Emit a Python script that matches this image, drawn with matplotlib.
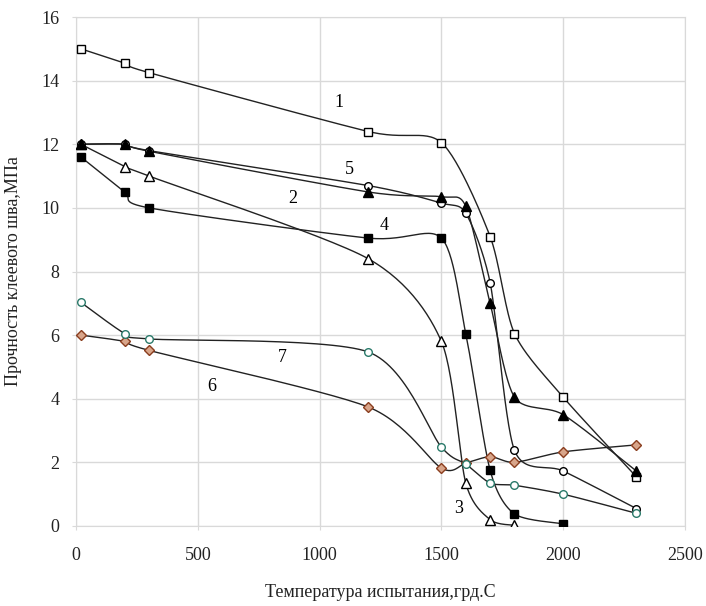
import numpy as np
import matplotlib
matplotlib.use("Agg")
import matplotlib.pyplot as plt

plt.rcParams['font.family'] = ['Liberation Serif', 'DejaVu Serif']

# temperatures (grd C) and strength (MPa) for each curve
t1 = [20, 200, 300, 1200, 1500, 1700, 1800, 2000, 2300]
s1 = [15.0, 14.55, 14.25, 12.4, 12.05, 9.1, 6.05, 4.05, 1.55]

t2 = [20, 200, 300, 1200, 1500, 1600, 1700, 1800, 2000, 2300]
s2 = [12.0, 12.0, 11.78, 10.5, 10.35, 10.05, 7.0, 4.05, 3.5, 1.73]

t3 = [20, 200, 300, 1200, 1500, 1600, 1700, 1800]
s3 = [12.0, 11.3, 11.0, 8.4, 5.8, 1.35, 0.2, 0.02]

t4 = [20, 200, 300, 1200, 1500, 1600, 1700, 1800, 2000]
s4 = [11.6, 10.5, 10.0, 9.05, 9.05, 6.05, 1.75, 0.38, 0.07]

t5 = [20, 200, 300, 1200, 1500, 1600, 1700, 1800, 2000, 2300]
s5 = [12.0, 12.0, 11.8, 10.7, 10.15, 9.83, 7.65, 2.38, 1.73, 0.55]

t6 = [20, 200, 300, 1200, 1500, 1600, 1700, 1800, 2000, 2300]
s6 = [6.0, 5.8, 5.52, 3.74, 1.82, 1.98, 2.18, 2.0, 2.33, 2.55]

t7 = [20, 200, 300, 1200, 1500, 1600, 1700, 1800, 2000, 2300]
s7 = [7.03, 6.05, 5.88, 5.47, 2.48, 1.95, 1.35, 1.28, 1.0, 0.4]

curve_labels = ['1', '2', '3', '4', '5', '6', '7']
label_pos = [(1080, 13.3), (888, 10.3), (1570, 0.55), (1264, 9.45),
             (1121, 11.2), (556, 4.4), (847, 5.3)]

XMAX, YMAX = 2500, 16
AX_W, AX_H = 609, 509  # axes size in pixels


def smooth(xs, ys, n=30, k=0.13):
    # excel-like smoothed line: bezier through points, done in pixel space
    px = np.array(xs, float) * AX_W / XMAX
    py = np.array(ys, float) * AX_H / YMAX
    P = np.column_stack([px, py])
    out = [P[0]]
    for i in range(len(P) - 1):
        p0 = P[i - 1] if i > 0 else P[i]
        p1, p2 = P[i], P[i + 1]
        p3 = P[i + 2] if i + 2 < len(P) else P[i + 1]
        c1 = p1 + (p2 - p0) * k
        c2 = p2 - (p3 - p1) * k
        u = np.linspace(0, 1, n)[1:, None]
        seg = ((1 - u) ** 3) * p1 + 3 * ((1 - u) ** 2) * u * c1 + 3 * (1 - u) * u ** 2 * c2 + u ** 3 * p2
        out.extend(seg)
    out = np.array(out)
    return out[:, 0] * XMAX / AX_W, out[:, 1] * YMAX / AX_H


fig = plt.figure(figsize=(7.06, 6.06), dpi=100)
ax = fig.add_axes([76 / 706, 80 / 606, AX_W / 706, AX_H / 606])

# drawing order: open markers first so the filled triangles sit on top
series = [
    (t5, s5, dict(marker='o', mfc='white', mec='black', ms=5.5)),
    (t3, s3, dict(marker='^', mfc='white', mec='black', ms=6.5)),
    (t1, s1, dict(marker='s', mfc='white', mec='black', ms=6)),
    (t4, s4, dict(marker='s', mfc='black', mec='black', ms=6)),
    (t6, s6, dict(marker='D', mfc='#d8a58a', mec='#8a3d1e', ms=5)),
    (t7, s7, dict(marker='o', mfc='white', mec='#2a7a6a', ms=5.5)),
    (t2, s2, dict(marker='^', mfc='black', mec='black', ms=6.5)),
]

for t, s, st in series:
    sx, sy = smooth(t, s)
    ax.plot(sx, sy, color='#222222', lw=1.0, zorder=2)
    ax.plot(t, s, ls='none', mew=1.0, zorder=3, **st)

for lab, (lx, ly) in zip(curve_labels, label_pos):
    ax.text(lx, ly, lab, fontsize=13, ha='center', va='center')

ax.set_xlim(0, XMAX)
ax.set_ylim(0, YMAX)
ax.set_xticks(np.arange(0, 2501, 500))
ax.set_yticks(np.arange(0, 17, 2))
ax.grid(True, color='#d9d9d9', lw=1.0)
ax.set_axisbelow(True)
for sp in ax.spines.values():
    sp.set_color('#d9d9d9')
ax.tick_params(colors='#d9d9d9', labelcolor='#222222', labelsize=13, length=3)
ax.tick_params(axis='y', pad=9)
ax.tick_params(axis='x', pad=12)

ax.set_xlabel('Температура испытания,грд.С', fontsize=13, color='#222222')
ax.set_ylabel('Прочность клеевого шва,МПа', fontsize=13, color='#222222')
ax.xaxis.set_label_coords(0.5, -0.113)
ax.yaxis.set_label_coords(-0.088, 0.5)

fig.savefig('out.png', dpi=100)
